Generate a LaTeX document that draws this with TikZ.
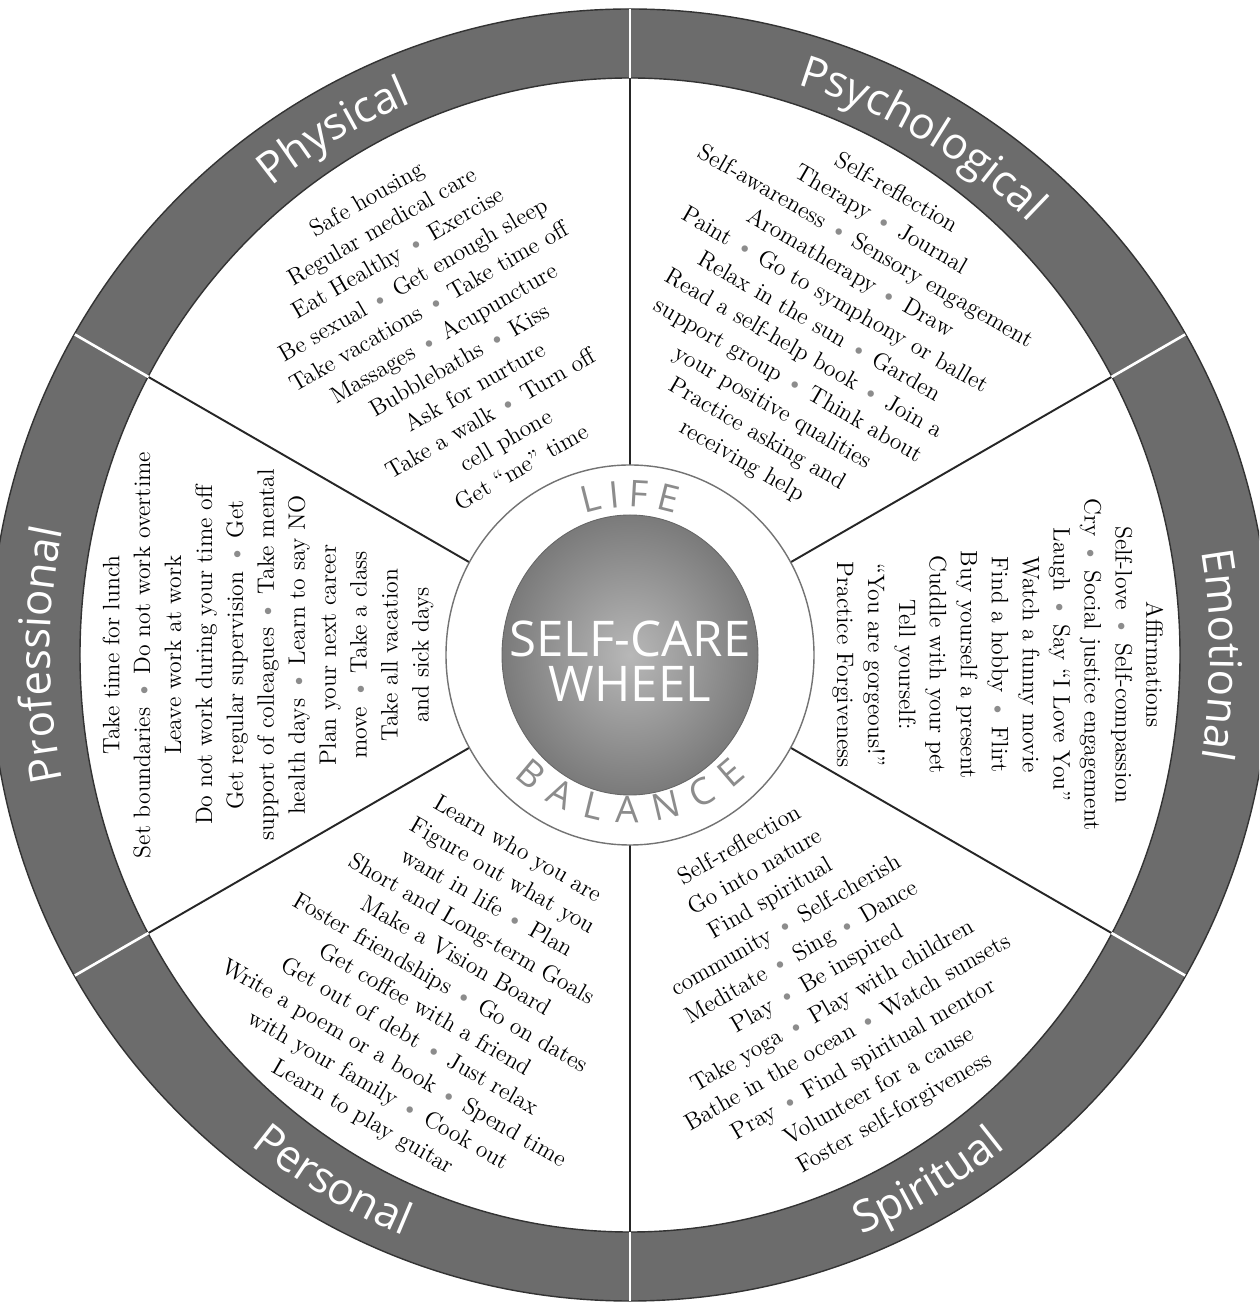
\documentclass[tikz,border=0pt]{standalone}
\usepackage{fontspec}
\setsansfont{Open Sans}
\usetikzlibrary{decorations.text}
\definecolor{rimgray}{RGB}{108,108,108}
\newcommand{\carebullet}{{\color{black!45}\textbullet}}
\newcommand{\rimfont}{\sffamily\fontsize{25}{25}\selectfont}
\newcommand{\hubfont}{\sffamily\fontsize{21}{21}\selectfont}

\begin{document}
\begin{tikzpicture}[x=0.02cm,y=0.02cm]
\tikzstyle{sectortext} = [align=center, inner sep=0pt, font=\fontsize{13.5}{17.6}\selectfont]
\tikzstyle{divider} = [draw=black!85, line width=1.1pt]
\tikzstyle{rimline} = [draw=white, line width=1.5pt]
\tikzstyle{rimlabel} = [decorate, decoration={text along path, text align=center, text color=white}]
\tikzstyle{hublabel} = [decorate, decoration={text along path, text align=fit to path, text color=black!45}]

\useasboundingbox (-630,-655) rectangle (629,655);
\fill[white] (-630,-655) rectangle (629,655);
\clip (-630,-655) rectangle (629,655);

\coordinate (hubA) at (30:150);
\coordinate (hubB) at (90:150);
\coordinate (hubC) at (150:150);
\coordinate (hubD) at (210:150);
\coordinate (hubE) at (270:150);
\coordinate (hubF) at (330:150);
\coordinate (rimInA) at (30:556);
\coordinate (rimInB) at (90:577);
\coordinate (rimInC) at (150:556);
\coordinate (rimInD) at (210:556);
\coordinate (rimInE) at (270:577);
\coordinate (rimInF) at (330:556);
\coordinate (rimA) at (30:641);
\coordinate (rimB) at (90:646);
\coordinate (rimC) at (150:641);
\coordinate (rimD) at (210:641);
\coordinate (rimE) at (270:646);
\coordinate (rimF) at (330:641);

\draw[divider] (hubA) -- (rimInA);
\draw[divider] (hubB) -- (rimInB);
\draw[divider] (hubC) -- (rimInC);
\draw[divider] (hubD) -- (rimInD);
\draw[divider] (hubE) -- (rimInE);
\draw[divider] (hubF) -- (rimInF);

\fill[rimgray, even odd rule] (0,0) ellipse [x radius=640, y radius=646] (0,0) ellipse [x radius=550, y radius=577];
\draw[black!80, line width=0.8pt] (0,0) ellipse [x radius=640, y radius=646];
\draw[black!80, line width=0.8pt] (0,0) ellipse [x radius=550, y radius=577];

\draw[rimline] (rimInA) -- (rimA);
\draw[rimline] (rimInB) -- (rimB);
\draw[rimline] (rimInC) -- (rimC);
\draw[rimline] (rimInD) -- (rimD);
\draw[rimline] (rimInE) -- (rimE);
\draw[rimline] (rimInF) -- (rimF);

\path[rimlabel, decoration={text={|\rimfont|Physical}}] (150:580 and 596) arc[start angle=150, end angle=90, x radius=580, y radius=596];
\path[rimlabel, decoration={text={|\rimfont|Psychological}}] (90:580 and 596) arc[start angle=90, end angle=30, x radius=580, y radius=596];
\path[rimlabel, decoration={text={|\rimfont|Emotional}}] (30:580 and 596) arc[start angle=30, end angle=-30, x radius=580, y radius=596];
\path[rimlabel, decoration={text={|\rimfont|Professional}}] (210:580 and 596) arc[start angle=210, end angle=150, x radius=580, y radius=596];
\path[rimlabel, decoration={text={|\rimfont|Spiritual}}] (270:610 and 626) arc[start angle=270, end angle=330, x radius=610, y radius=626];
\path[rimlabel, decoration={text={|\rimfont|Personal}}] (210:610 and 626) arc[start angle=210, end angle=270, x radius=610, y radius=626];

\filldraw[fill=white, draw=black!55, line width=0.8pt] (0,0) ellipse [x radius=184, y radius=190];
\shade[inner color=black!28, outer color=black!52] (0,0) ellipse [x radius=128, y radius=140];
\draw[black!60, line width=0.5pt] (0,0) ellipse [x radius=128, y radius=140];

\path[hublabel, decoration={text={|\hubfont|LIFE}}] (108:148) arc[start angle=108, end angle=72, radius=148];
\path[hublabel, decoration={text={|\hubfont|BALANCE}}] (226:168) arc[start angle=226, end angle=314, radius=168];

\node(hubTitle) [font=\sffamily\fontsize{28}{25.5}\selectfont, text=white, align=center] at (0,-6) {SELF-CARE\\WHEEL};

\node(physicalText) [sectortext, rotate=30] at (120:372) {Safe housing\\
  Regular medical care\\
  Eat Healthy \carebullet{} Exercise\\
  Be sexual \carebullet{} Get enough sleep\\
  Take vacations \carebullet{} Take time off\\
  Massages \carebullet{} Acupuncture\\
  Bubblebaths \carebullet{} Kiss\\
  Ask for nurture\\
  Take a walk \carebullet{} Turn off\\
  cell phone\\
  Get “me” time};
\node(psychologicalText) [sectortext, rotate=-30] at (60:378) {Self-reflection\\
  Therapy \carebullet{} Journal\\
  Self-awareness \carebullet{} Sensory engagement\\
  Aromatherapy \carebullet{} Draw\\
  Paint \carebullet{} Go to symphony or ballet\\
  Relax in the sun \carebullet{} Garden\\
  Read a self-help book \carebullet{} Join a\\
  support group \carebullet{} Think about\\
  your positive qualities\\
  Practice asking and\\
  receiving help};
\node(emotionalText) [sectortext, rotate=-90] at (-1.5:368) {Affirmations\\
  Self-love \carebullet{} Self-compassion\\
  Cry \carebullet{} Social justice engagement\\
  Laugh \carebullet{} Say “I Love You”\\
  Watch a funny movie\\
  Find a hobby \carebullet{} Flirt\\
  Buy yourself a present\\
  Cuddle with your pet\\
  Tell yourself:\\
  “You are gorgeous!”\\
  Practice Forgiveness};
\node(spiritualText) [sectortext, rotate=30] at (300:375) {Self-reflection\\
  Go into nature\\
  Find spiritual\\
  community \carebullet{} Self-cherish\\
  Meditate \carebullet{} Sing \carebullet{} Dance\\
  Play \carebullet{} Be inspired\\
  Take yoga \carebullet{} Play with children\\
  Bathe in the ocean \carebullet{} Watch sunsets\\
  Pray \carebullet{} Find spiritual mentor\\
  Volunteer for a cause\\
  Foster self-forgiveness};
\node(personalText) [sectortext, rotate=-30] at (240:380) {Learn who you are\\
  Figure out what you\\
  want in life \carebullet{} Plan\\
  Short and Long-term Goals\\
  Make a Vision Board\\
  Foster friendships \carebullet{} Go on dates\\
  Get coffee with a friend\\
  Get out of debt \carebullet{} Just relax\\
  Write a poem or a book \carebullet{} Spend time\\
  with your family \carebullet{} Cook out\\
  Learn to play guitar};
\node(professionalText) [sectortext, rotate=90] at (180:362) {Take time for lunch\\
  Set boundaries \carebullet{} Do not work overtime\\
  Leave work at work\\
  Do not work during your time off\\
  Get regular supervision \carebullet{} Get\\
  support of colleagues \carebullet{} Take mental\\
  health days \carebullet{} Learn to say NO\\
  Plan your next career\\
  move \carebullet{} Take a class\\
  Take all vacation\\
  and sick days};
\end{tikzpicture}
\end{document}
